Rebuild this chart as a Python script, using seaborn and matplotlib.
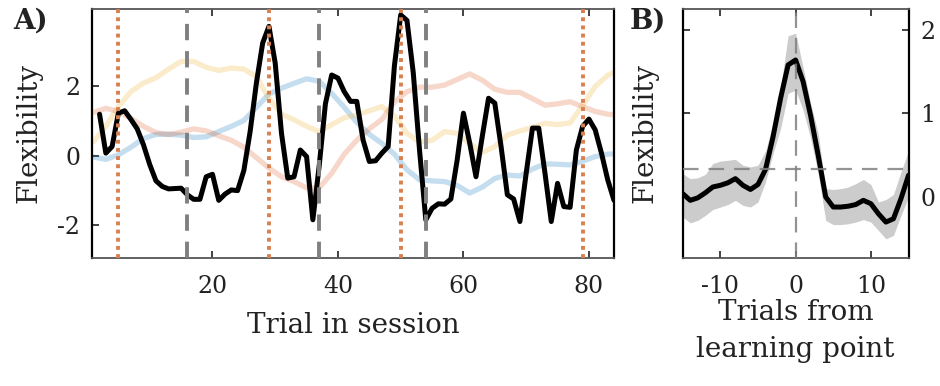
import numpy as np
import pandas as pd
import matplotlib
matplotlib.use("Agg")
import matplotlib.pyplot as plt
import seaborn as sns

# ---- panel A data ----
trials = list(range(2, 85))
flex = [1.2, 0.08, 0.27, 1.23, 1.3, 1.05, 0.78, 0.32, -0.25, -0.72,
        -0.88, -0.95, -0.94, -0.93, -1.12, -1.25, -1.25, -0.6, -0.53, -1.28,
        -1.1, -0.98, -1.0, -0.42, 0.7, 2.1, 3.25, 3.73, 2.67, 0.65,
        -0.64, -0.6, 0.17, -0.02, -1.84, -0.3, 1.5, 2.33, 2.24, 1.85,
        1.57, 1.57, 0.46, -0.16, -0.14, 0.08, 0.27, 2.6, 4.06, 3.9,
        2.4, 0.17, -1.84, -1.51, -1.38, -1.39, -1.24, -0.12, 1.23, 0.37,
        -0.6, 0.56, 1.66, 1.52, 0.27, -1.12, -1.24, -1.89, -0.5, 0.8,
        0.8, -0.5, -1.89, -0.79, -1.46, -1.48, 0.17, 0.85, 1.06, 0.75,
        0.08, -0.69, -1.28]

smooth_trials = list(range(1, 86, 2))
blue_track = [-0.03, -0.1, 0.03, 0.25, 0.5, 0.62, 0.62, 0.6, 0.53, 0.55,
              0.7, 0.85, 1.02, 1.4, 1.78, 1.95, 2.09, 2.22, 2.15, 1.8,
              1.4, 0.97, 0.62, 0.36, 0.05, -0.4, -0.69, -0.72, -0.74, -0.85,
              -1.07, -0.9, -0.65, -0.55, -0.58, -0.38, -0.23, -0.24, -0.26, -0.15,
              -0.02, 0.05, 0.07]
gold_track = [0.4, 0.85, 1.42, 1.85, 2.1, 2.25, 2.5, 2.72, 2.72, 2.55,
              2.46, 2.53, 2.5, 2.28, 1.65, 1.2, 1.04, 0.85, 0.7, 0.9,
              1.1, 1.18, 1.3, 1.42, 1.15, 0.65, 0.4, 0.45, 0.7, 0.65,
              0.35, 0.1, 0.27, 0.6, 0.72, 0.82, 0.94, 0.9, 0.95, 1.45,
              2.0, 2.32, 2.5]
red_track = [1.25, 1.37, 1.28, 1.08, 0.85, 0.67, 0.62, 0.68, 0.78, 0.72,
             0.58, 0.45, 0.25, -0.05, -0.35, -0.6, -0.74, -0.92, -0.92, -0.5,
             0.05, 0.45, 0.78, 1.05, 1.55, 1.85, 1.98, 1.98, 2.04, 2.2,
             2.36, 2.18, 1.92, 1.83, 1.83, 1.65, 1.46, 1.5, 1.56, 1.42,
             1.28, 1.2, 1.17]

learn_trials = [5, 29, 50, 79]     # orange dotted
switch_trials = [16, 37, 54]       # grey dashed

# ---- panel B data ----
lag = list(range(-15, 16))
lag_mean = [0.04, -0.04, -0.01, 0.05, 0.12, 0.14, 0.17, 0.22, 0.14, 0.09,
            0.15, 0.33, 0.72, 1.18, 1.58, 1.64, 1.38, 0.97, 0.5, 0.0,
            -0.12, -0.12, -0.11, -0.09, -0.04, -0.08, -0.2, -0.3, -0.26, -0.02,
            0.26]
lag_upper = [0.28, 0.22, 0.23, 0.27, 0.4, 0.43, 0.44, 0.45, 0.38, 0.36,
             0.38, 0.55, 0.88, 1.3, 1.93, 1.96, 1.55, 1.12, 0.76, 0.1,
             0.09, 0.1, 0.12, 0.16, 0.21, 0.15, -0.06, -0.03, 0.03, 0.3,
             0.55]
lag_lower = [-0.24, -0.31, -0.28, -0.22, -0.15, -0.12, -0.09, -0.04, -0.1, -0.12,
             -0.06, 0.18, 0.52, 0.82, 1.24, 1.28, 1.04, 0.7, 0.28, -0.28,
             -0.33, -0.33, -0.32, -0.3, -0.27, -0.3, -0.4, -0.5, -0.46, -0.22,
             0.0]
baseline = 0.34

sns.set_theme(style="white")
plt.rcParams['font.family'] = ['DejaVu Serif']
plt.rcParams['axes.unicode_minus'] = False
plt.rcParams['text.color'] = '#222222'
plt.rcParams['axes.labelcolor'] = '#222222'
plt.rcParams['xtick.color'] = '#222222'
plt.rcParams['ytick.color'] = '#222222'

fig = plt.figure(figsize=(9.4, 3.86), dpi=100)
axA = fig.add_axes([0.0979, 0.3316, 0.5553, 0.6451])
axB = fig.add_axes([0.7263, 0.3316, 0.2402, 0.6451])

# smooth tracks
df_s = pd.DataFrame({"trial": smooth_trials, "blue": blue_track,
                     "gold": gold_track, "red": red_track})
for col, c in [("blue", "#0072BD"), ("gold", "#EDB120"), ("red", "#D95319")]:
    sns.lineplot(data=df_s, x="trial", y=col, ax=axA, color=c, alpha=0.23,
                 lw=3.8, estimator=None, zorder=1)

df_a = pd.DataFrame({"trial": trials, "flex": flex})
sns.lineplot(data=df_a, x="trial", y="flex", ax=axA, color="black", lw=3.6,
             estimator=None, zorder=3)

for t in learn_trials:
    axA.axvline(t, color="#D9804F", lw=2.8, dashes=(1, 1.1), zorder=4)
for t in switch_trials:
    axA.axvline(t, color="#808080", lw=2.8, dashes=(4.2, 2.8), zorder=4)

axA.set_xlim(0.8, 84)
axA.set_ylim(-2.94, 4.23)
axA.set_xticks([20, 40, 60, 80])
axA.set_yticks([-2, 0, 2])
axA.set_xlabel("Trial in session", fontsize=20)
axA.set_ylabel("Flexibility", fontsize=20)
axA.xaxis.set_label_coords(0.5, -0.215)
axA.yaxis.set_label_coords(-0.094, 0.5)
axA.tick_params(axis="both", direction="in", length=5, width=1.2,
                labelsize=17, top=True, right=False, left=True, bottom=True)
axA.tick_params(axis="x", pad=12)
axA.tick_params(axis="y", pad=8.5)

# panel B
axB.fill_between(lag, lag_lower, lag_upper, color="#cccccc", lw=0, zorder=1)
df_b = pd.DataFrame({"lag": lag, "mean": lag_mean})
sns.lineplot(data=df_b, x="lag", y="mean", ax=axB, color="black", lw=3.6,
             estimator=None, zorder=3)
axB.axvline(0, color="#808080", lw=1.6, dashes=(7, 4.5), alpha=0.85, zorder=4)
axB.axhline(baseline, color="#808080", lw=1.6, dashes=(7, 4.5), alpha=0.85, zorder=4)
axB.set_xlim(-15, 15)
axB.set_ylim(-0.73, 2.25)
axB.set_xticks([-10, 0, 10])
axB.set_yticks([0, 1, 2])
axB.yaxis.tick_right()
axB.set_xlabel("Trials from\nlearning point", fontsize=20, linespacing=1.45)
axB.set_ylabel("Flexibility", fontsize=20)
axB.yaxis.set_label_position("left")
axB.xaxis.set_label_coords(0.5, -0.165)
axB.yaxis.set_label_coords(-0.109, 0.5)
axB.tick_params(axis="both", direction="in", length=5, width=1.2,
                labelsize=17, top=True, bottom=True, left=True, right=True)
axB.tick_params(axis="y", labelleft=False, labelright=True, pad=8.5)
axB.tick_params(axis="x", pad=12)

for ax in (axA, axB):
    for side in ("top", "bottom"):
        ax.spines[side].set_color("#555555")
        ax.spines[side].set_linewidth(1.3)
    for side in ("left", "right"):
        ax.spines[side].set_color("black")
        ax.spines[side].set_linewidth(1.6)

fig.text(13 / 940, 1 - 8 / 386, "A)", fontsize=20, fontweight="bold",
         ha="left", va="top")
fig.text(630 / 940, 1 - 8 / 386, "B)", fontsize=20, fontweight="bold",
         ha="left", va="top")

fig.savefig("out.png", dpi=100)
